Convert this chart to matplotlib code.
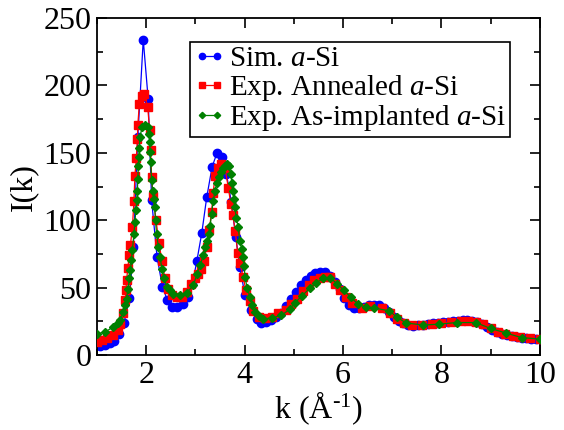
import matplotlib
matplotlib.use('Agg')
import matplotlib.pyplot as plt
from matplotlib.ticker import MultipleLocator

plt.rcParams['font.family'] = 'Liberation Serif'
plt.rcParams['mathtext.fontset'] = 'custom'
plt.rcParams['mathtext.rm'] = 'Liberation Serif'
plt.rcParams['mathtext.it'] = 'Liberation Serif:italic'

# simulated a-Si
k_sim = [1.06, 1.16, 1.27, 1.35, 1.45, 1.55, 1.66, 1.74, 1.83, 1.94, 2.04, 2.11, 2.22,
         2.33, 2.43, 2.53, 2.63, 2.74, 2.84, 2.94, 3.03, 3.13, 3.23, 3.34, 3.44, 3.54,
         3.63, 3.73, 3.82, 3.90, 4.01, 4.13, 4.25, 4.34, 4.44, 4.54, 4.63, 4.74, 4.84,
         4.94, 5.04, 5.14, 5.24, 5.34, 5.44, 5.53, 5.63, 5.73, 5.83, 5.93, 6.03, 6.13,
         6.23, 6.33, 6.43, 6.53, 6.63, 6.73, 6.83, 6.93, 7.03, 7.13, 7.23, 7.33, 7.43,
         7.53, 7.63, 7.73, 7.83, 7.93, 8.03, 8.13, 8.23, 8.33, 8.43, 8.53, 8.63, 8.73,
         8.83, 8.93, 9.03, 9.13, 9.23, 9.33, 9.43, 9.53, 9.63, 9.73, 9.83, 9.93]
I_sim = [7, 7.2, 9, 10.4, 16, 24, 42.5, 80, 162, 234, 190, 115, 73,
         50.7, 40.8, 35.8, 35.5, 37.8, 43, 53, 70, 90.6, 117, 139.7, 150, 146.6,
         134.7, 113.7, 88, 65.5, 44.5, 33.4, 27.2, 24.2, 24.7, 26.4, 28.4, 31.6, 36.3,
         42, 47, 52, 55.6, 58.5, 60.8, 61.8, 61.5, 58.8, 54, 49, 42.5, 37.5,
         35, 34.8, 36, 37, 37.3, 37, 35.3, 32, 28.5, 25.5, 23.5, 22.3, 22,
         22.2, 22.5, 23, 23.5, 24, 24.3, 24.8, 25.2, 25.6, 26, 26.1, 25.6, 24.6,
         22.8, 21, 19, 17.3, 16, 14.8, 14, 13.3, 12.9, 12.5, 12.2, 11.9]

# experimental annealed a-Si
k_ann = [1.00, 1.10, 1.20, 1.32, 1.42, 1.47, 1.53, 1.57, 1.59, 1.60, 1.63, 1.65, 1.68,
         1.72, 1.75, 1.77, 1.80, 1.82, 1.83, 1.86, 1.91, 1.96, 2.03, 2.07, 2.09, 2.11,
         2.14, 2.20, 2.26, 2.32, 2.38, 2.45, 2.53, 2.62, 2.72, 2.82, 2.92, 3.00, 3.06,
         3.12, 3.17, 3.23, 3.28, 3.33, 3.36, 3.40, 3.46, 3.53, 3.60, 3.67, 3.72, 3.76,
         3.81, 3.86, 3.91, 3.97, 4.03, 4.10, 4.18, 4.30, 4.42, 4.55, 4.68, 4.85, 4.95,
         5.06, 5.18, 5.30, 5.42, 5.53, 5.64, 5.74, 5.84, 5.94, 6.06, 6.18, 6.38, 6.55,
         6.79, 6.95, 7.10, 7.25, 7.40, 7.60, 7.80, 8.00, 8.20, 8.40, 8.55, 8.70, 8.85,
         9.00, 9.15, 9.30, 9.45, 9.60, 9.80, 10.0]
I_ann = [10, 11, 12.5, 14.8, 18.5, 23, 31, 40.8, 48, 56, 65, 74, 82,
         95, 114, 133, 146, 160, 171, 186, 192, 194, 184, 167, 152, 132,
         118, 100, 83, 70, 57, 49, 44.5, 43, 43.5, 47, 53, 57, 60,
         64, 70, 80, 93, 106, 120, 133, 139, 142, 139, 124, 112, 104,
         92, 76, 68, 58, 48, 40, 33, 28.5, 27.5, 28.5, 31, 33.4, 38,
         42, 47.5, 52, 55.5, 57.6, 58.2, 58, 53, 48, 43, 39, 35, 36.5,
         35, 31, 26.5, 23.5, 22.5, 22.3, 23, 23.8, 24.5, 25.2, 25.5, 24.8, 23,
         20, 17.5, 15.5, 14, 13.2, 12.5, 12]

# experimental as-implanted a-Si
k_imp = [1.00, 1.16, 1.33, 1.42, 1.47, 1.53, 1.57, 1.60, 1.63, 1.66, 1.68, 1.70, 1.72,
         1.75, 1.77, 1.79, 1.81, 1.82, 1.83, 1.84, 1.85, 1.86, 1.87, 1.92, 1.98, 2.03,
         2.06, 2.07, 2.08, 2.09, 2.11, 2.13, 2.15, 2.17, 2.19, 2.21, 2.25, 2.28, 2.32,
         2.36, 2.42, 2.48, 2.55, 2.69, 2.82, 2.96, 3.03, 3.10, 3.16, 3.20, 3.23, 3.27,
         3.30, 3.33, 3.36, 3.40, 3.44, 3.47, 3.52, 3.56, 3.60, 3.65, 3.69, 3.72, 3.74,
         3.76, 3.78, 3.80, 3.83, 3.87, 3.90, 3.94, 3.97, 3.99, 4.01, 4.05, 4.11, 4.16,
         4.21, 4.30, 4.38, 4.55, 4.75, 4.92, 5.02, 5.17, 5.32, 5.45, 5.60, 5.74, 5.88,
         6.02, 6.16, 6.31, 6.47, 6.63, 6.94, 7.10, 7.28, 7.62, 7.95, 8.31, 8.70, 9.00,
         9.31, 9.63, 10.0]
I_imp = [16, 17, 21, 24, 26, 32, 37, 42, 49, 57, 63, 70.5, 78,
         90, 99, 107.6, 115, 122, 131, 140, 147, 154, 162, 169, 171, 169,
         164, 158, 151, 143, 130, 122, 116, 110, 100, 90, 80, 73, 64,
         57, 50.7, 48, 45.7, 44.5, 46, 52, 60, 67, 74, 80, 85, 90,
         96, 105, 114, 122, 128, 132, 136, 139, 140.5, 142, 140, 134, 128,
         122, 116, 110, 102, 95, 85, 79, 73, 66, 58, 50, 43, 37,
         32, 29, 27, 27.5, 29.7, 34, 38.8, 44, 49.5, 53.6, 57, 57.6, 52.7,
         48.2, 42.8, 37.8, 35.5, 35, 32.9, 28, 24, 22.3, 23, 24.2, 24.2, 19.8,
         16.5, 13, 12]

fig = plt.figure(figsize=(5.64, 4.30), dpi=100)
ax = fig.add_axes([0.172, 0.174, 0.785, 0.784])

ax.plot(k_sim, I_sim, '-o', color='#0000ff', lw=0.9, ms=6, mec='#0000ff',
        label='Sim. $\\mathit{a}$-Si', zorder=2)
ax.plot(k_ann, I_ann, '-s', color='#ff0000', lw=0.9, ms=5.2, mec='#ff0000',
        label='Exp. Annealed $\\mathit{a}$-Si', zorder=3)
ax.plot(k_imp, I_imp, '-D', color='#008000', lw=0.9, ms=4.3, mec='#008000',
        label='Exp. As-implanted $\\mathit{a}$-Si', zorder=4)

ax.set_xlim(1, 10)
ax.set_ylim(0, 250)
ax.xaxis.set_major_locator(MultipleLocator(2))
ax.xaxis.set_minor_locator(MultipleLocator(1))
ax.yaxis.set_major_locator(MultipleLocator(50))
ax.yaxis.set_minor_locator(MultipleLocator(25))
ax.tick_params(which='both', direction='in', top=True, right=True, width=1.2)
ax.tick_params(which='major', length=7, labelsize=23, pad=4)
ax.tick_params(which='minor', length=4)
for s in ax.spines.values():
    s.set_linewidth(1.3)

ax.set_xlabel('k (Å$^{\\text{-1}}$)', fontsize=23, labelpad=0)
ax.set_ylabel('I(k)', fontsize=23, labelpad=4)

leg = ax.legend(loc='upper right', bbox_to_anchor=(0.932, 0.928), fontsize=21,
                numpoints=2, handlelength=1.1, handletextpad=0.12, labelspacing=0.02,
                borderpad=0.12, borderaxespad=0, fancybox=False, framealpha=1,
                edgecolor='black', markerscale=0.75)
leg.get_frame().set_linewidth(1.2)

fig.savefig('out.png', dpi=100)
